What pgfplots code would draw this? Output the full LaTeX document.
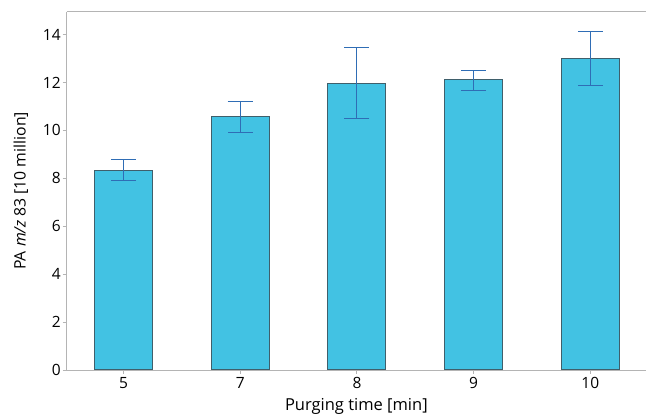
\documentclass[border=0pt]{standalone}
\usepackage{fontspec}
\setmainfont{Open Sans}
\usepackage{pgfplots}
\pgfplotsset{compat=1.18}
\definecolor{barfill}{HTML}{42C2E3}
\definecolor{barline}{HTML}{3F5F6B}
\definecolor{errc}{HTML}{2F6DB5}
\definecolor{axc}{HTML}{B4B4B4}
\pgfplotstableread{
x y ep em
0 8.32 0.45 0.42
1 10.58 0.64 0.68
2 11.97 1.47 1.48
3 12.12 0.39 0.44
4 13.01 1.13 1.12
}\datatable
\begin{document}
\begin{tikzpicture}
\path[use as bounding box] (0,0) rectangle (646pt,414pt);
\begin{axis}[
 at={(66.7pt,44pt)}, anchor=south west,
 scale only axis, width=579.3pt, height=358.3pt,
 xmin=-0.487, xmax=4.477, ymin=0, ymax=14.95,
 axis x line*=box, axis y line*=left,
 axis line style={axc, line width=0.9pt},
 xtick={0,...,4}, xticklabels={5,7,8,9,10},
 ytick={0,2,...,14},
 xtick pos=bottom, ytick pos=left,
 tick style={axc, line width=0.9pt},
 tick align=outside, major tick length=4pt,
 /pgf/number format/assume math mode=true,
 tick label style={font=\fontsize{15.5}{18}\selectfont, black},
 yticklabel style={xshift=1.5pt},
 xlabel={Purging time [min]},
 ylabel={PA \textit{m/z} 83 [10 million]},
 xlabel style={at={(axis description cs:0.5,-0.1144)}, anchor=base, font=\fontsize{16.5}{19}\selectfont, black},
 ylabel style={at={(axis description cs:-0.071,0.5)}, anchor=base, rotate=0, font=\fontsize{15.8}{19}\selectfont, black},
 clip=false,
]
\addplot[ybar, bar width=58pt, bar shift=0pt, fill=barfill, draw=barline, line width=1pt,
 error bars/.cd, y dir=both, y explicit,
 error bar style={errc, line width=1pt},
 error mark options={errc, mark size=12.5pt, line width=1pt, rotate=90}]
 table[x=x, y=y, y error plus=ep, y error minus=em]{\datatable};
\end{axis}
\end{tikzpicture}
\end{document}
